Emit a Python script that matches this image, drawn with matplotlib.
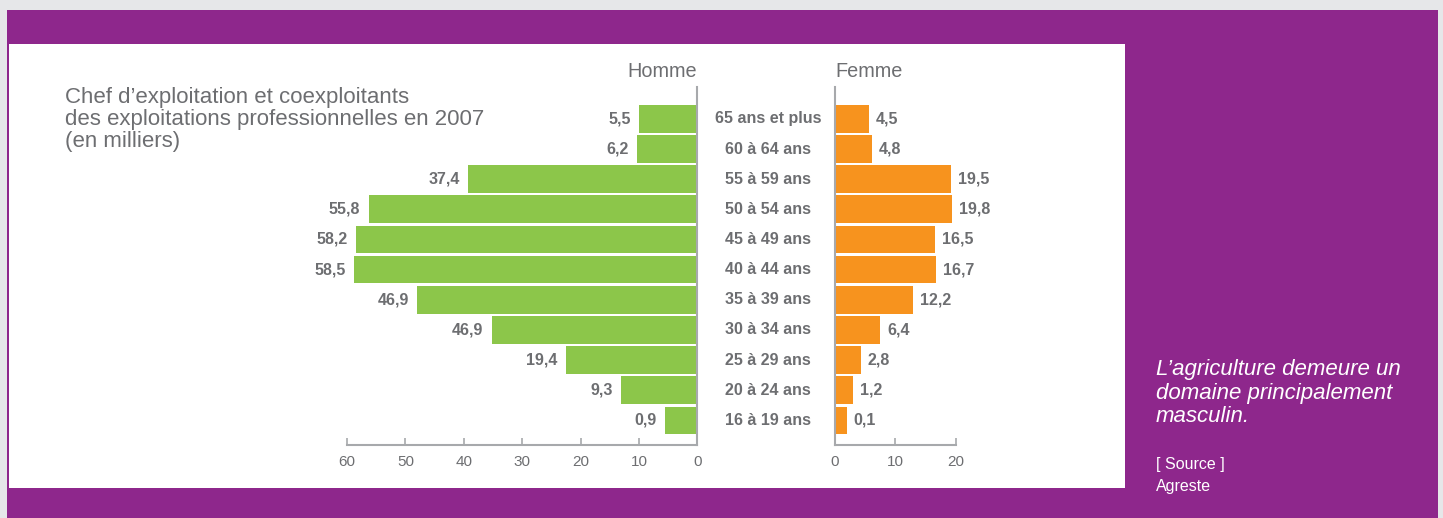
import matplotlib.pyplot as plt
from matplotlib.patches import Rectangle

plt.rcParams['font.family'] = ['Liberation Sans', 'DejaVu Sans']

ages = ["16 à 19 ans", "20 à 24 ans", "25 à 29 ans", "30 à 34 ans", "35 à 39 ans",
        "40 à 44 ans", "45 à 49 ans", "50 à 54 ans", "55 à 59 ans", "60 à 64 ans",
        "65 ans et plus"]
# bar lengths as drawn in the original (they don't always match the printed labels)
homme = [5.5, 13.1, 22.5, 35.2, 48.0, 58.8, 58.5, 56.3, 39.3, 10.3, 10.0]
homme_lbl = ["0,9", "9,3", "19,4", "46,9", "46,9", "58,5", "58,2", "55,8", "37,4", "6,2", "5,5"]
femme = [2.0, 3.0, 4.3, 7.5, 13.0, 16.7, 16.6, 19.4, 19.2, 6.1, 5.7]
femme_lbl = ["0,1", "1,2", "2,8", "6,4", "12,2", "16,7", "16,5", "19,8", "19,5", "4,8", "4,5"]
homme_ticks = [60, 50, 40, 30, 20, 10, 0]
femme_ticks = [0, 10, 20]

W, H = 1443, 518
GREEN = '#8cc64a'
ORANGE = '#f7931e'
PURPLE = '#8e278c'
TXT = '#6d6e71'
AX = '#a7a9ac'

def fx(x):
    return x / W

def fy(y):
    return 1 - y / H

fig = plt.figure(figsize=(W / 100, H / 100), dpi=100)
fig.patch.set_facecolor('#e6e7e9')

# background panels in a full-figure axes behind everything
bg = fig.add_axes([0, 0, 1, 1], zorder=-1)
bg.set_xlim(0, W)
bg.set_ylim(H, 0)
bg.axis('off')
bg.add_patch(Rectangle((7, 10), 1431, 508, facecolor=PURPLE, edgecolor='none'))
bg.add_patch(Rectangle((9, 44), 1116, 444, facecolor='white', edgecolor='none'))

bottom = fy(445)
height = 358.3 / H
ylim = (-0.814, 11.066)
y = list(range(len(ages)))

axl = fig.add_axes([fx(347), bottom, 350.3 / W, height])
axr = fig.add_axes([fx(834.7), bottom, 121 / W, height])

for ax in (axl, axr):
    ax.set_facecolor('none')
    ax.set_ylim(*ylim)
    ax.set_yticks([])
    for s in ax.spines.values():
        s.set_visible(False)
    ax.spines['bottom'].set_visible(True)
    ax.spines['bottom'].set_color(AX)
    ax.spines['bottom'].set_linewidth(1.5)
    ax.tick_params(axis='x', direction='in', length=5, width=1.2, color=AX,
                   labelcolor=TXT, labelsize=11, pad=7)

axl.barh(y, homme, height=0.918, color=GREEN)
axl.set_xlim(60, 0)
axl.set_xticks(homme_ticks)
axl.spines['right'].set_visible(True)
axl.spines['right'].set_color(AX)
axl.spines['right'].set_linewidth(1.5)
for i, v in enumerate(homme):
    axl.annotate(homme_lbl[i], (v, i), xytext=(-6, 0), textcoords='offset points',
                 ha='right', va='center', fontsize=11.5, fontweight='bold', color=TXT)

axr.barh(y, femme, height=0.918, color=ORANGE)
axr.set_xlim(0, 20)
axr.set_xticks(femme_ticks)
axr.spines['left'].set_visible(True)
axr.spines['left'].set_color(AX)
axr.spines['left'].set_linewidth(1.5)
for i, v in enumerate(femme):
    axr.annotate(femme_lbl[i], (v, i), xytext=(5, 0), textcoords='offset points',
                 ha='left', va='center', fontsize=11.5, fontweight='bold', color=TXT)

for i, a in enumerate(ages):
    axr.annotate(a, (0, i), xycoords=('axes fraction', 'data'), xytext=(-66.5, 0),
                 textcoords='offset pixels', ha='center', va='center',
                 fontsize=11.5, fontweight='bold', color=TXT)

fig.text(fx(697), fy(71), "Homme", ha='right', va='center', fontsize=14.3, color=TXT)
fig.text(fx(835), fy(71), "Femme", ha='left', va='center', fontsize=14.3, color=TXT)

fig.text(fx(65), fy(87), "Chef d\u2019exploitation et coexploitants\n"
         "des exploitations professionnelles en 2007\n(en milliers)",
         ha='left', va='top', fontsize=16, color=TXT, linespacing=1.05)

fig.text(fx(1156), fy(359), "L\u2019agriculture demeure un\ndomaine principalement\nmasculin.",
         ha='left', va='top', fontsize=16, style='italic', color='white', linespacing=1.17)
fig.text(fx(1156), fy(457), "[ Source ]\nAgreste", ha='left', va='top',
         fontsize=11.5, color='white', linespacing=1.62)

fig.savefig('out.png', dpi=100, facecolor=fig.get_facecolor())
